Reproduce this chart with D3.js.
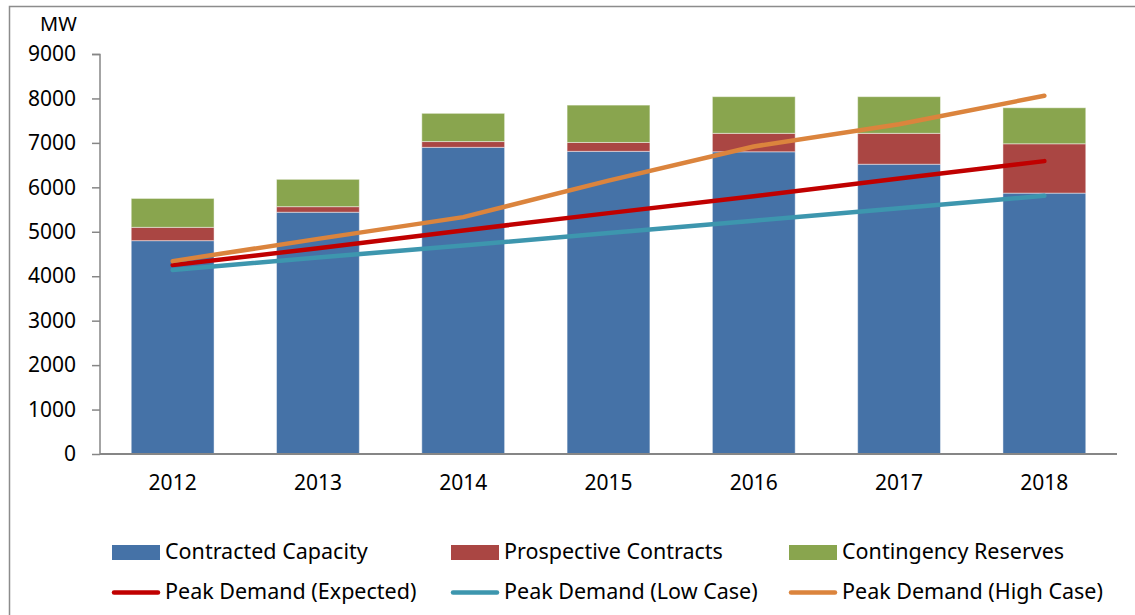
<!DOCTYPE html>
<html><head><meta charset="utf-8">
<script src="https://cdn.jsdelivr.net/npm/d3@7/dist/d3.min.js"></script>
<style>
html,body{margin:0;padding:0;background:#fff;}
text{font-family:"Noto Sans","Liberation Sans",Arial,sans-serif;fill:#000;}
</style></head>
<body><svg id="c" width="1135" height="615"></svg>
<script>
const years = ["2012","2013","2014","2015","2016","2017","2018"];
const contracted = [4800, 5440, 6900, 6810, 6800, 6520, 5870];
const prospective = [300, 125, 130, 200, 415, 695, 1110];
const contingency = [650, 615, 635, 840, 825, 825, 810];
const peakExpected = [4250, 4630, 5030, 5420, 5800, 6200, 6590];
const peakLow = [4140, 4420, 4690, 4970, 5250, 5530, 5810];
const peakHigh = [4340, 4840, 5330, 6150, 6920, 7420, 8060];
const yTicks = [0,1000,2000,3000,4000,5000,6000,7000,8000,9000];

const FONT = "Noto Sans, Liberation Sans, Arial, sans-serif";
const barSeries = [
  {name:"Contracted Capacity", values:contracted, color:"#4572A7"},
  {name:"Prospective Contracts", values:prospective, color:"#AA4643"},
  {name:"Contingency Reserves", values:contingency, color:"#89A54E"}
];
const lineSeries = [
  {name:"Peak Demand (Expected)", values:peakExpected, color:"#C00000"},
  {name:"Peak Demand (Low Case)", values:peakLow, color:"#3D96AE"},
  {name:"Peak Demand (High Case)", values:peakHigh, color:"#DB843D"}
];

const svg = d3.select("#c");
// frame
svg.append("path").attr("d","M9.5,615 L9.5,6.5 L1135,6.5").attr("fill","none").attr("stroke","#8c8c8c").attr("stroke-width",1.5);

const x = d3.scaleBand().domain(years).range([100,1117]).paddingInner(0.43).paddingOuter(0.215);
const y = d3.scaleLinear().domain([0,9000]).range([454,54]);

// stacked bars
const table = years.map((yr,i)=>{const o={year:yr}; barSeries.forEach(s=>o[s.name]=s.values[i]); return o;});
const stack = d3.stack().keys(barSeries.map(s=>s.name))(table);
stack.forEach((layer,k)=>{
  svg.append("g").selectAll("rect").data(layer).join("rect")
    .attr("x",d=>x(d.data.year)).attr("width",x.bandwidth())
    .attr("y",d=>y(d[1])).attr("height",d=>y(d[0])-y(d[1]))
    .attr("fill",barSeries[k].color)
    .attr("stroke","rgba(255,255,255,0.45)").attr("stroke-width",1);
});

// axes
const yAxis = d3.axisLeft(y).tickValues(yTicks).tickSize(8).tickPadding(16).tickFormat(d3.format("d"));
const gy = svg.append("g").attr("transform","translate(100,0)").call(yAxis);
gy.select(".domain").attr("stroke","#868686").attr("stroke-width",1.5).attr("d","M-8,54.5H0V454");
gy.selectAll(".tick line").attr("stroke","#868686").attr("stroke-width",1.5);
gy.selectAll(".tick text").attr("font-size",21).attr("font-family",FONT).attr("fill","#000");

const xAxis = d3.axisBottom(x).tickSize(0).tickPadding(21);
const gx = svg.append("g").attr("transform","translate(0,454)").call(xAxis);
gx.select(".domain").attr("stroke","#868686").attr("stroke-width",2).attr("d","M100,0H1117");
gx.selectAll(".tick text").attr("font-size",21).attr("font-family",FONT).attr("fill","#000");

svg.append("text").attr("x",40).attr("y",31).attr("font-size",20).text("MW");

// lines
const line = d3.line().x((d,i)=>x(years[i])+x.bandwidth()/2).y(d=>y(d));
lineSeries.forEach(s=>{
  svg.append("path").datum(s.values).attr("d",line).attr("fill","none")
    .attr("stroke",s.color).attr("stroke-width",4.5).attr("stroke-linecap","round").attr("stroke-linejoin","round");
});

// legend
const colX = [112, 451, 789];
const lg = svg.append("g");
barSeries.forEach((s,i)=>{
  lg.append("rect").attr("x",colX[i]).attr("y",545).attr("width",48).attr("height",15).attr("fill",s.color);
  lg.append("text").attr("x",colX[i]+53).attr("y",559).attr("font-size",21.5).text(s.name);
});
lineSeries.forEach((s,i)=>{
  lg.append("line").attr("x1",colX[i]+2).attr("x2",colX[i]+46).attr("y1",592.5).attr("y2",592.5)
    .attr("stroke",s.color).attr("stroke-width",4.5).attr("stroke-linecap","round");
  lg.append("text").attr("x",colX[i]+53).attr("y",599).attr("font-size",21.5).text(s.name);
});
</script></body></html>
